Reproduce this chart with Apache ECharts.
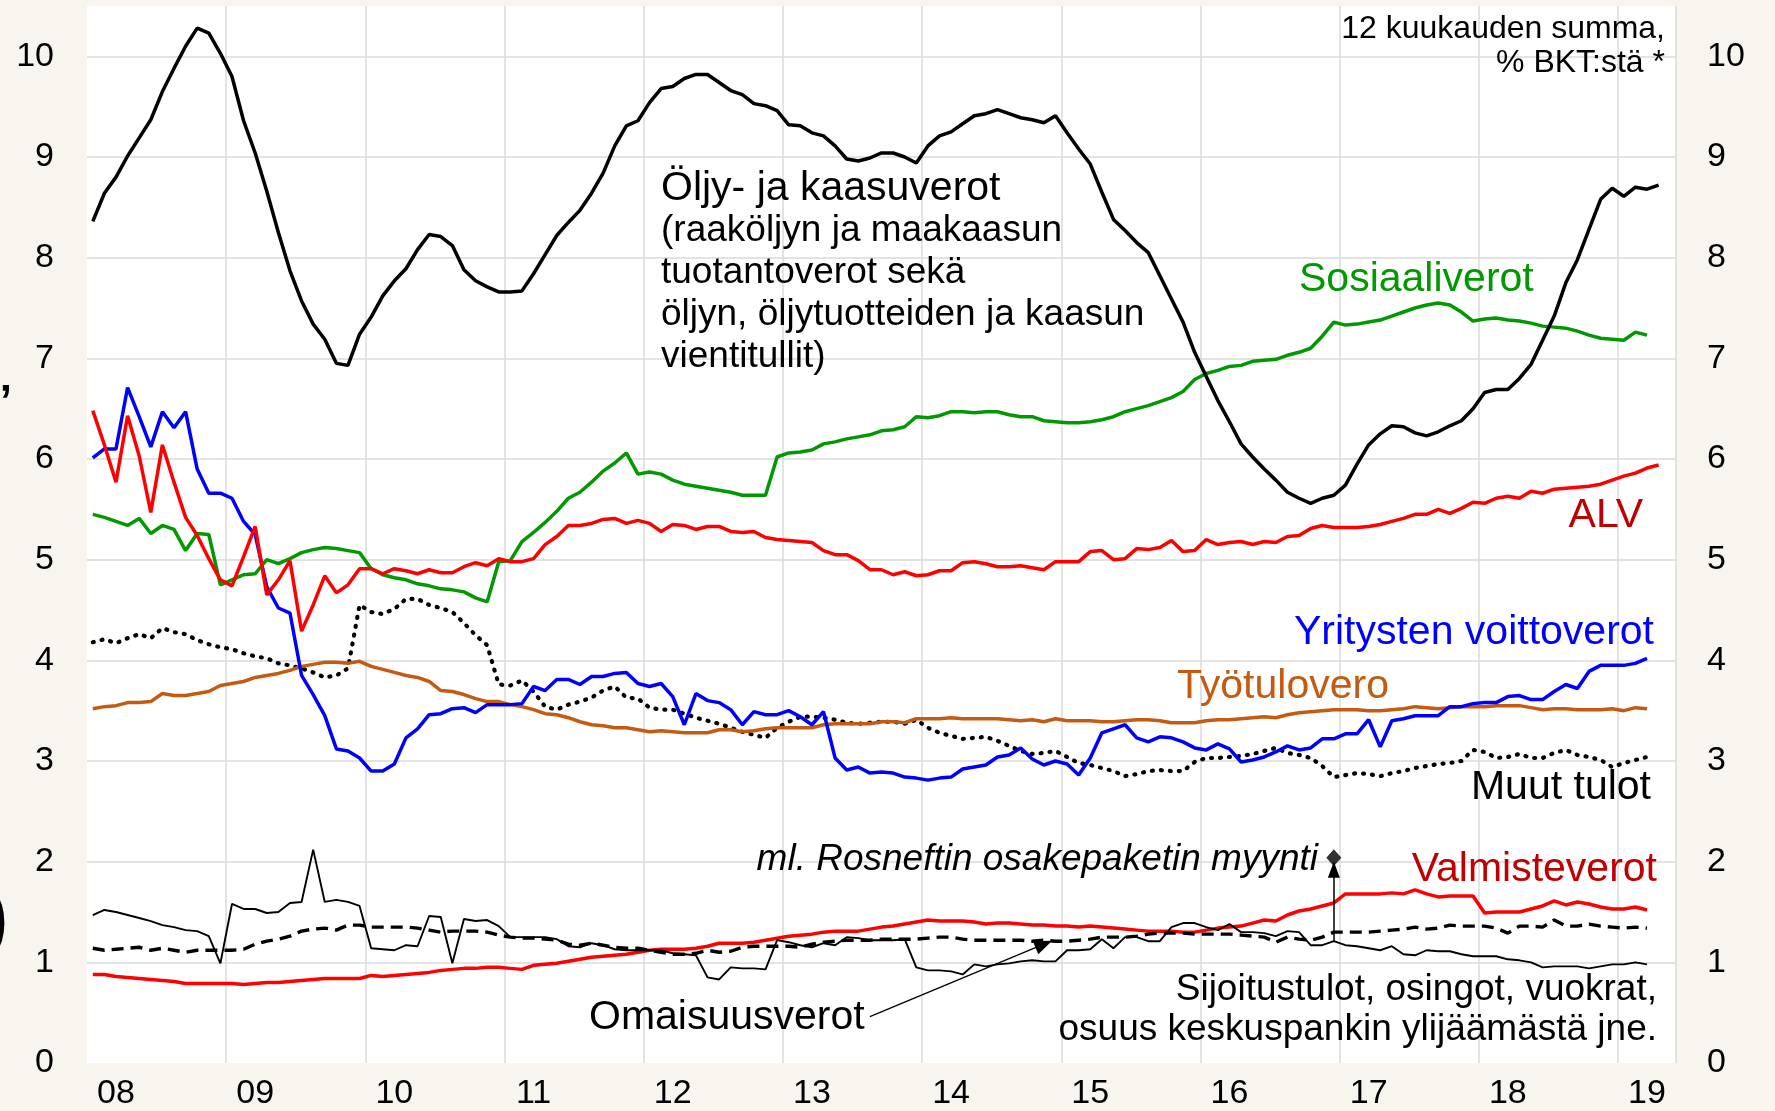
<!DOCTYPE html>
<html>
<head>
<meta charset="utf-8">
<script src="https://cdn.jsdelivr.net/npm/echarts@6/dist/echarts.min.js"></script>
<style>
  html, body { margin: 0; padding: 0; background: #F8F4EE; }
  #chart { width: 1775px; height: 1111px; }
</style>
</head>
<body>
<div id="chart"></div>
<script>
// kuukaudet 2008-01 ... 2019-05 (viimeinen tyhjä)
const months = [];
for (let y = 2008; y <= 2019; y++) {
    for (let m = 1; m <= 12; m++) {
        if (y === 2019 && m > 5) break;
        months.push(y + "-" + String(m).padStart(2, "0"));
    }
}
const yearLabels = ["08", "09", "10", "11", "12", "13", "14", "15", "16", "17", "18", "19"];
const yTicks = [0, 10.5, 1];

const oilGas = [
    8.36, 8.64, 8.80, 9.01, 9.19, 9.37, 9.65, 9.88, 10.10, 10.28, 10.23, 10.03,
    9.80, 9.36, 9.04, 8.66, 8.25, 7.87, 7.57, 7.34, 7.19, 6.95, 6.93, 7.24,
    7.41, 7.62, 7.77, 7.89, 8.08, 8.23, 8.21, 8.12, 7.88, 7.77, 7.71, 7.66,
    7.66, 7.67, 7.84, 8.03, 8.22, 8.35, 8.47, 8.64, 8.84, 9.11, 9.31, 9.36,
    9.54, 9.68, 9.70, 9.78, 9.82, 9.82, 9.74, 9.66, 9.62, 9.53, 9.51, 9.46,
    9.32, 9.31, 9.24, 9.21, 9.11, 8.98, 8.96, 8.99, 9.04, 9.04, 9.00, 8.94,
    9.11, 9.21, 9.25, 9.33, 9.41, 9.43, 9.47, 9.43, 9.39, 9.37, 9.34, 9.41,
    9.24, 9.08, 8.93, 8.65, 8.38, 8.27, 8.15, 8.05, 7.82, 7.59, 7.36, 7.06,
    6.82, 6.58, 6.37, 6.15, 6.02, 5.90, 5.79, 5.67, 5.61, 5.56, 5.61, 5.64,
    5.74, 5.95, 6.14, 6.25, 6.33, 6.32, 6.26, 6.23, 6.27, 6.33, 6.38, 6.50,
    6.66, 6.69, 6.69, 6.80, 6.94, 7.18, 7.42, 7.75, 7.98, 8.28, 8.58, 8.69,
    8.61, 8.70, 8.68, 8.72
];

const socialTax = [
    5.45, 5.42, 5.38, 5.34, 5.41, 5.26, 5.34, 5.30, 5.09, 5.26, 5.25, 4.75,
    4.80, 4.85, 4.86, 5.00, 4.96, 5.01, 5.07, 5.10, 5.12, 5.11, 5.09, 5.07,
    4.91, 4.85, 4.82, 4.80, 4.76, 4.74, 4.71, 4.70, 4.68, 4.62, 4.58, 4.98,
    4.99, 5.18, 5.27, 5.37, 5.48, 5.61, 5.67, 5.77, 5.88, 5.96, 6.06, 5.85,
    5.87, 5.85, 5.79, 5.75, 5.73, 5.71, 5.69, 5.67, 5.64, 5.64, 5.64, 6.02,
    6.06, 6.07, 6.09, 6.15, 6.17, 6.20, 6.22, 6.24, 6.28, 6.29, 6.32, 6.42,
    6.41, 6.43, 6.47, 6.47, 6.46, 6.47, 6.47, 6.44, 6.42, 6.42, 6.38, 6.37,
    6.36, 6.36, 6.37, 6.39, 6.42, 6.47, 6.50, 6.53, 6.57, 6.61, 6.67, 6.79,
    6.85, 6.88, 6.92, 6.93, 6.97, 6.98, 6.99, 7.03, 7.06, 7.10, 7.22, 7.36,
    7.33, 7.34, 7.36, 7.38, 7.42, 7.46, 7.50, 7.53, 7.55, 7.53, 7.46, 7.37,
    7.39, 7.40, 7.38, 7.37, 7.35, 7.32, 7.31, 7.30, 7.27, 7.23, 7.20, 7.19,
    7.18, 7.26, 7.23
];

const vat = [
    6.48, 6.14, 5.77, 6.43, 6.03, 5.47, 6.14, 5.77, 5.42, 5.24, 5.01, 4.80,
    4.74, 5.03, 5.33, 4.65, 4.80, 4.99, 4.29, 4.55, 4.84, 4.67, 4.75, 4.91,
    4.91, 4.86, 4.91, 4.89, 4.86, 4.90, 4.87, 4.87, 4.93, 4.97, 4.94, 5.01,
    4.98, 4.98, 5.01, 5.15, 5.23, 5.34, 5.34, 5.36, 5.40, 5.41, 5.36, 5.39,
    5.36, 5.28, 5.35, 5.34, 5.30, 5.33, 5.33, 5.28, 5.27, 5.28, 5.22, 5.20,
    5.19, 5.18, 5.17, 5.09, 5.05, 5.05, 4.99, 4.90, 4.90, 4.85, 4.88, 4.84,
    4.85, 4.89, 4.89, 4.97, 4.98, 4.96, 4.93, 4.93, 4.94, 4.92, 4.90, 4.98,
    4.98, 4.98, 5.08, 5.09, 5.00, 5.01, 5.11, 5.10, 5.12, 5.19, 5.08, 5.09,
    5.20, 5.15, 5.17, 5.18, 5.15, 5.18, 5.17, 5.23, 5.24, 5.31, 5.34, 5.32,
    5.32, 5.32, 5.33, 5.35, 5.38, 5.41, 5.45, 5.45, 5.50, 5.46, 5.51, 5.57,
    5.56, 5.61, 5.63, 5.61, 5.68, 5.66, 5.70, 5.71, 5.72, 5.73, 5.75, 5.79,
    5.83, 5.86, 5.91, 5.94
];

const profitTax = [
    6.01, 6.10, 6.10, 6.71, 6.42, 6.12, 6.47, 6.31, 6.47, 5.90, 5.66, 5.66,
    5.61, 5.38, 5.25, 4.73, 4.52, 4.47, 3.85, 3.66, 3.45, 3.12, 3.10, 3.03,
    2.90, 2.90, 2.97, 3.23, 3.32, 3.46, 3.47, 3.52, 3.53, 3.48, 3.56, 3.56,
    3.56, 3.57, 3.74, 3.70, 3.81, 3.81, 3.76, 3.84, 3.84, 3.87, 3.88, 3.77,
    3.74, 3.77, 3.64, 3.36, 3.67, 3.60, 3.58, 3.51, 3.36, 3.49, 3.46, 3.46,
    3.50, 3.44, 3.36, 3.49, 3.03, 2.91, 2.94, 2.88, 2.89, 2.88, 2.84, 2.83,
    2.81, 2.83, 2.84, 2.92, 2.94, 2.96, 3.04, 3.06, 3.13, 3.02, 2.96, 3.00,
    2.97, 2.86, 3.03, 3.28, 3.32, 3.36, 3.23, 3.19, 3.24, 3.23, 3.19, 3.13,
    3.11, 3.17, 3.12, 2.99, 3.01, 3.04, 3.09, 3.15, 3.11, 3.13, 3.22, 3.22,
    3.27, 3.27, 3.41, 3.14, 3.40, 3.42, 3.45, 3.45, 3.45, 3.54, 3.54, 3.57,
    3.58, 3.58, 3.64, 3.65, 3.61, 3.61, 3.69, 3.76, 3.72, 3.89, 3.95, 3.95,
    3.95, 3.97, 4.02
];

const labourTax = [
    3.52, 3.54, 3.55, 3.58, 3.58, 3.59, 3.67, 3.65, 3.65, 3.67, 3.69, 3.75,
    3.77, 3.79, 3.83, 3.85, 3.87, 3.90, 3.94, 3.96, 3.98, 3.98, 3.97, 3.99,
    3.94, 3.91, 3.88, 3.85, 3.83, 3.79, 3.70, 3.69, 3.66, 3.62, 3.59, 3.59,
    3.56, 3.54, 3.51, 3.47, 3.46, 3.43, 3.39, 3.36, 3.35, 3.33, 3.33, 3.31,
    3.29, 3.30, 3.29, 3.28, 3.28, 3.28, 3.31, 3.31, 3.29, 3.30, 3.32, 3.33,
    3.33, 3.33, 3.33, 3.36, 3.37, 3.37, 3.37, 3.37, 3.39, 3.39, 3.38, 3.42,
    3.42, 3.42, 3.43, 3.42, 3.42, 3.42, 3.42, 3.41, 3.40, 3.41, 3.39, 3.42,
    3.40, 3.40, 3.40, 3.39, 3.39, 3.40, 3.41, 3.41, 3.40, 3.38, 3.38, 3.38,
    3.40, 3.41, 3.41, 3.42, 3.43, 3.44, 3.43, 3.46, 3.48, 3.49, 3.50, 3.51,
    3.51, 3.51, 3.50, 3.50, 3.51, 3.52, 3.54, 3.53, 3.52, 3.53, 3.54, 3.54,
    3.54, 3.55, 3.55, 3.55, 3.53, 3.51, 3.52, 3.52, 3.51, 3.51, 3.51, 3.52,
    3.50, 3.53, 3.52
];

const otherIncome = [
    4.18, 4.21, 4.17, 4.22, 4.26, 4.22, 4.32, 4.28, 4.26, 4.20, 4.16, 4.13,
    4.11, 4.07, 4.04, 4.02, 3.97, 3.95, 3.92, 3.88, 3.83, 3.85, 3.92, 4.55,
    4.48, 4.46, 4.51, 4.61, 4.61, 4.55, 4.52, 4.48, 4.37, 4.25, 4.15, 3.76,
    3.75, 3.80, 3.69, 3.54, 3.51, 3.56, 3.59, 3.63, 3.70, 3.74, 3.63, 3.62,
    3.53, 3.51, 3.51, 3.47, 3.43, 3.40, 3.37, 3.33, 3.29, 3.26, 3.23, 3.33,
    3.39, 3.44, 3.44, 3.43, 3.41, 3.38, 3.37, 3.38, 3.39, 3.39, 3.37, 3.41,
    3.33, 3.28, 3.25, 3.22, 3.23, 3.24, 3.20, 3.15, 3.10, 3.07, 3.08, 3.10,
    3.04, 2.98, 2.96, 2.93, 2.90, 2.85, 2.87, 2.90, 2.91, 2.90, 2.90, 2.99,
    3.03, 3.03, 3.04, 3.05, 3.07, 3.10, 3.13, 3.08, 3.06, 3.03, 2.95, 2.84,
    2.86, 2.88, 2.87, 2.85, 2.88, 2.90, 2.93, 2.95, 2.97, 2.98, 3.00, 3.11,
    3.09, 3.03, 3.04, 3.07, 3.03, 3.03, 3.08, 3.11, 3.06, 3.04, 3.01, 2.94,
    2.98, 3.01, 3.04
];

const exciseTax = [
    0.88, 0.88, 0.86, 0.85, 0.84, 0.83, 0.82, 0.81, 0.79, 0.79, 0.79, 0.79,
    0.79, 0.78, 0.79, 0.80, 0.80, 0.81, 0.82, 0.83, 0.84, 0.84, 0.84, 0.84,
    0.87, 0.86, 0.87, 0.88, 0.89, 0.90, 0.92, 0.93, 0.94, 0.94, 0.95, 0.95,
    0.94, 0.93, 0.97, 0.98, 0.99, 1.01, 1.03, 1.05, 1.06, 1.07, 1.08, 1.10,
    1.12, 1.13, 1.13, 1.13, 1.14, 1.16, 1.19, 1.19, 1.19, 1.20, 1.22, 1.24,
    1.26, 1.27, 1.28, 1.30, 1.31, 1.31, 1.31, 1.33, 1.35, 1.36, 1.38, 1.40,
    1.42, 1.41, 1.41, 1.41, 1.40, 1.38, 1.39, 1.39, 1.38, 1.37, 1.37, 1.36,
    1.36, 1.35, 1.36, 1.35, 1.34, 1.33, 1.32, 1.31, 1.31, 1.31, 1.30, 1.30,
    1.32, 1.34, 1.35, 1.36, 1.39, 1.42, 1.41, 1.47, 1.51, 1.53, 1.56, 1.59,
    1.68, 1.68, 1.68, 1.68, 1.69, 1.68, 1.72, 1.68, 1.65, 1.66, 1.66, 1.66,
    1.49, 1.50, 1.50, 1.50, 1.53, 1.56, 1.61, 1.57, 1.60, 1.58, 1.55, 1.53,
    1.53, 1.55, 1.52
];

const propertyTax = [
    1.14, 1.12, 1.13, 1.14, 1.15, 1.12, 1.14, 1.12, 1.10, 1.12, 1.12, 1.12,
    1.12, 1.13, 1.18, 1.21, 1.23, 1.26, 1.31, 1.33, 1.34, 1.32, 1.37, 1.37,
    1.35, 1.35, 1.35, 1.35, 1.34, 1.32, 1.30, 1.31, 1.31, 1.31, 1.30, 1.27,
    1.25, 1.24, 1.24, 1.23, 1.22, 1.18, 1.17, 1.19, 1.17, 1.15, 1.14, 1.14,
    1.12, 1.10, 1.08, 1.08, 1.09, 1.12, 1.10, 1.11, 1.15, 1.16, 1.16, 1.16,
    1.16, 1.15, 1.18, 1.20, 1.21, 1.22, 1.22, 1.22, 1.23, 1.23, 1.23, 1.23,
    1.24, 1.25, 1.25, 1.23, 1.22, 1.22, 1.22, 1.22, 1.22, 1.21, 1.22, 1.21,
    1.21, 1.22, 1.23, 1.25, 1.25, 1.25, 1.26, 1.28, 1.29, 1.29, 1.29, 1.28,
    1.28, 1.28, 1.28, 1.27, 1.26, 1.25, 1.20, 1.25, 1.23, 1.22, 1.25, 1.30,
    1.30, 1.30, 1.30, 1.31, 1.32, 1.33, 1.35, 1.33, 1.34, 1.37, 1.36, 1.36,
    1.36, 1.34, 1.29, 1.36, 1.36, 1.35, 1.42, 1.36, 1.36, 1.38, 1.36, 1.35,
    1.34, 1.35, 1.34
];

const investIncome = [
    1.47, 1.52, 1.50, 1.47, 1.44, 1.41, 1.37, 1.35, 1.32, 1.31, 1.26, 0.99,
    1.58, 1.53, 1.53, 1.49, 1.50, 1.59, 1.60, 2.12, 1.60, 1.62, 1.60, 1.56,
    1.14, 1.13, 1.12, 1.17, 1.16, 1.46, 1.45, 0.99, 1.43, 1.41, 1.42, 1.36,
    1.25, 1.25, 1.25, 1.25, 1.23, 1.16, 1.15, 1.19, 1.17, 1.13, 1.12, 1.12,
    1.12, 1.12, 1.09, 1.08, 1.07, 0.85, 0.83, 0.95, 0.94, 0.94, 0.93, 1.22,
    1.20, 1.17, 1.15, 1.19, 1.17, 1.25, 1.24, 1.22, 1.22, 1.22, 1.23, 0.95,
    0.92, 0.92, 0.91, 0.88, 0.98, 0.96, 0.98, 0.99, 1.01, 1.02, 1.01, 1.01,
    1.12, 1.12, 1.13, 1.23, 1.14, 1.25, 1.25, 1.21, 1.21, 1.35, 1.39, 1.39,
    1.35, 1.32, 1.38, 1.30, 1.30, 1.29, 1.26, 1.31, 1.30, 1.17, 1.17, 1.21,
    1.17, 1.16, 1.14, 1.12, 1.16, 1.08, 1.07, 1.12, 1.11, 1.11, 1.08, 1.06,
    1.06, 1.06, 1.03, 1.02, 1.00, 0.95, 0.96, 0.96, 0.96, 0.94, 0.96, 0.98,
    0.98, 1.00, 0.98
];

// Rosneftin osakepaketin myynti, joulukuu 2016
const rosneftMonth = "2016-12";
const rosneftValue = 2.04;
const rosneftArrow = [1.21, 1.92];
const propertyArrow = [["2013-08", 0.46], ["2014-11", 1.18]];

const FONT = "'Liberation Sans', Arial, sans-serif";
const LW = 3.5;
const chart = echarts.init(document.getElementById("chart"));

function lineSeries(name, data, color, width, type, extra) {
    return Object.assign({
        name: name,
        type: "line",
        data: data,
        showSymbol: false,
        symbol: "none",
        silent: true,
        lineStyle: { color: color, width: width, type: type || "solid" }
    }, extra || {});
}

function label(text, x, y, size, color, align, extra) {
    return {
        type: "text",
        x: x,
        y: y,
        silent: true,
        z: 100,
        style: Object.assign({
            text: text,
            fill: color,
            font: size + "px " + FONT,
            textAlign: align || "left",
            textVerticalAlign: "middle"
        }, extra || {})
    };
}

chart.setOption({
    animation: false,
    backgroundColor: "#F8F4EE",
    grid: {
        left: 87, right: 99, top: 6, bottom: 47,
        show: true, backgroundColor: "#FFFFFF", borderWidth: 0
    },
    xAxis: {
        type: "category",
        data: months,
        boundaryGap: true,
        axisLine: { show: false },
        axisTick: { show: false },
        axisLabel: {
            interval: i => i % 12 === 2,
            formatter: (v, i) => yearLabels[Math.floor(i / 12)],
            fontFamily: FONT, fontSize: 34, color: "#000", margin: 14
        },
        splitLine: {
            show: true,
            interval: i => i > 0 && i % 12 === 0,
            lineStyle: { color: "#DADADA", width: 1.5 }
        }
    },
    yAxis: [
        {
            type: "value", min: yTicks[0], max: yTicks[1], interval: yTicks[2],
            position: "left",
            axisLine: { show: false }, axisTick: { show: false },
            axisLabel: { fontFamily: FONT, fontSize: 34, color: "#000", margin: 33, showMaxLabel: false },
            splitLine: { show: true, showMaxLine: false, showMinLine: false, lineStyle: { color: "#DADADA", width: 1.5 } }
        },
        {
            type: "value", min: yTicks[0], max: yTicks[1], interval: yTicks[2],
            position: "right",
            axisLine: { show: false }, axisTick: { show: false },
            axisLabel: { fontFamily: FONT, fontSize: 34, color: "#000", margin: 31, showMaxLabel: false },
            splitLine: { show: false }
        }
    ],
    series: [
        lineSeries("Muut tulot", otherIncome, "#000000", 4, [1, 8], { lineStyle: { color: "#000", width: 4.2, type: [1, 8], cap: "round" } }),
        lineSeries("Työtulovero", labourTax, "#C55A11", LW),
        lineSeries("Yritysten voittoverot", profitTax, "#0000FF", LW),
        lineSeries("Sosiaaliverot", socialTax, "#009900", LW),
        lineSeries("ALV", vat, "#FF0000", LW),
        lineSeries("Öljy- ja kaasuverot", oilGas, "#000000", LW),
        lineSeries("Valmisteverot", exciseTax, "#FF0000", LW),
        lineSeries("Omaisuusverot", propertyTax, "#000000", 3.4, [12, 7], {
            markLine: {
                silent: true,
                symbol: ["none", "triangle"],
                symbolSize: [14, 18],
                label: { show: false },
                lineStyle: { color: "#000", width: 1.3, type: "solid" },
                data: [[{ coord: propertyArrow[0] }, { coord: propertyArrow[1] }]]
            }
        }),
        lineSeries("Sijoitustulot", investIncome, "#000000", 1.9, "solid", {
            markLine: {
                silent: true,
                symbol: ["none", "triangle"],
                symbolSize: [12, 16],
                label: { show: false },
                lineStyle: { color: "#000", width: 1.5, type: "solid" },
                data: [[{ coord: [rosneftMonth, rosneftArrow[0]] }, { coord: [rosneftMonth, rosneftArrow[1]] }]]
            }
        }),
        {
            name: "Rosneft",
            type: "scatter",
            symbol: "diamond",
            symbolSize: [15, 17],
            silent: true,
            itemStyle: { color: "#000" },
            data: [[rosneftMonth, rosneftValue]]
        }
    ],
    graphic: [
        label("12 kuukauden summa,", 1665, 29, 32, "#000", "right"),
        label("% BKT:stä *", 1665, 63, 32, "#000", "right"),
        label("Öljy- ja kaasuverot", 661, 189, 41, "#000"),
        label("(raaköljyn ja maakaasun", 661, 231, 37, "#000"),
        label("tuotantoverot sekä", 661, 273, 37, "#000"),
        label("öljyn, öljytuotteiden ja kaasun", 661, 315, 37, "#000"),
        label("vientitullit)", 661, 357, 37, "#000"),
        label("Sosiaaliverot", 1299, 280, 41, "#009900"),
        label("ALV", 1643, 516, 41, "#C00000", "right"),
        label("Yritysten voittoverot", 1654, 633, 41, "#0000FF", "right"),
        label("Työtulovero", 1177, 687, 41, "#C55A11"),
        label("Muut tulot", 1651, 788, 41, "#000", "right"),
        label("Valmisteverot", 1657, 870, 41, "#C00000", "right"),
        label("ml. Rosneftin osakepaketin myynti", 1318, 860, 37, "#000", "right", { font: "italic 37px " + FONT }),
        label("Omaisuusverot", 589, 1018, 41, "#000"),
        label("Sijoitustulot, osingot, vuokrat,", 1657, 990, 37, "#000", "right"),
        label("osuus keskuspankin ylijäämästä jne.", 1657, 1030, 37, "#000", "right"),
        label("’", 12, 404, 44, "#000", "right", { font: "bold 44px " + FONT }),
        label(")", 8, 922, 72, "#000", "right", { font: "bold 72px " + FONT })
    ]
});
</script>
</body>
</html>
